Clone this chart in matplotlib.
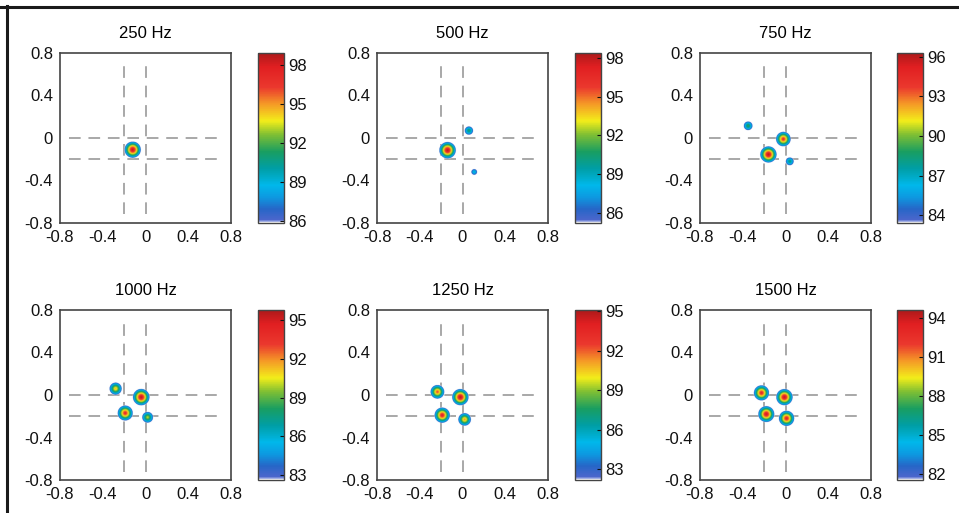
import numpy as np
import matplotlib
matplotlib.use("Agg")
import matplotlib.pyplot as plt
from matplotlib.colors import LinearSegmentedColormap
from matplotlib.lines import Line2D

plt.rcParams['font.family'] = ['Liberation Sans', 'DejaVu Sans']

# ---------------- data ----------------
titles = ["250 Hz", "500 Hz", "750 Hz", "1000 Hz", "1250 Hz", "1500 Hz"]

src_x_250 = [-0.12]
src_y_250 = [-0.11]
peak_250 = [98.6]

src_x_500 = [-0.14, 0.06, 0.11]
src_y_500 = [-0.115, 0.07, -0.32]
peak_500 = [98.2, 90.8, 88.8]

src_x_750 = [-0.35, -0.02, -0.16, 0.04]
src_y_750 = [0.115, -0.01, -0.155, -0.22]
peak_750 = [89.3, 94.5, 96.2, 88.6]

src_x_1000 = [-0.28, -0.04, -0.19, 0.02]
src_y_1000 = [0.06, -0.02, -0.17, -0.21]
peak_1000 = [91.5, 95.6, 94.2, 90.3]

src_x_1250 = [-0.235, -0.02, -0.19, 0.02]
src_y_1250 = [0.03, -0.02, -0.19, -0.23]
peak_1250 = [92.5, 95.0, 94.0, 91.5]

src_x_1500 = [-0.225, -0.01, -0.18, 0.01]
src_y_1500 = [0.02, -0.02, -0.18, -0.22]
peak_1500 = [93.2, 94.3, 94.0, 93.3]

clim_lo = [85.85, 85.2, 83.4, 82.6, 82.2, 81.5]
clim_hi = [98.9, 98.4, 96.3, 95.8, 95.1, 94.6]

cbar_ticks = [[86, 89, 92, 95, 98],
              [86, 89, 92, 95, 98],
              [84, 87, 90, 93, 96],
              [83, 86, 89, 92, 95],
              [83, 86, 89, 92, 95],
              [82, 85, 88, 91, 94]]

axis_ticks = [-0.8, -0.4, 0, 0.4, 0.8]
axis_ticklabels = ["-0.8", "-0.4", "0", "0.4", "0.8"]

guide_x = [-0.2, 0.0]
guide_y = [0.0, -0.2]

sources = [(src_x_250, src_y_250, peak_250),
           (src_x_500, src_y_500, peak_500),
           (src_x_750, src_y_750, peak_750),
           (src_x_1000, src_y_1000, peak_1000),
           (src_x_1250, src_y_1250, peak_1250),
           (src_x_1500, src_y_1500, peak_1500)]

# ---------------- figure ----------------
W, H = 959, 513
fig = plt.figure(figsize=(W / 100, H / 100), dpi=100)

# border lines (top and left)
fig.add_artist(Line2D([0, 1], [1 - 7 / H, 1 - 7 / H], transform=fig.transFigure,
                      color='#1a1a1a', lw=2.2))
fig.add_artist(Line2D([7 / W, 7 / W], [0, 1 - 6 / H], transform=fig.transFigure,
                      color='#1a1a1a', lw=2.2))

# scanned-looking jet colormap
cmap = LinearSegmentedColormap.from_list('scanjet', [
    (0.00, (1.00, 1.00, 1.00)),
    (0.015, (0.30, 0.40, 0.80)),
    (0.08, (0.15, 0.40, 0.78)),
    (0.15, (0.05, 0.60, 0.88)),
    (0.22, (0.00, 0.72, 0.92)),
    (0.32, (0.00, 0.62, 0.65)),
    (0.42, (0.10, 0.62, 0.38)),
    (0.52, (0.50, 0.75, 0.20)),
    (0.60, (0.95, 0.93, 0.10)),
    (0.70, (0.96, 0.60, 0.15)),
    (0.80, (0.92, 0.22, 0.18)),
    (0.92, (0.88, 0.12, 0.13)),
    (1.00, (0.68, 0.10, 0.10)),
], N=256)
cmap.set_bad((1, 1, 1, 0))

ax_lefts = [60, 377, 700]
cb_lefts = [258, 575, 897]
row_tops = [53, 310]
ax_w, ax_h = 171, 170
cb_w = 26

g = np.linspace(-0.8, 0.8, 600)
GX, GY = np.meshgrid(g, g)
decay, expo = 345.0, 1.3
FS = 12

def px_rect(left, top, w, h):
    return [left / W, 1 - (top + h) / H, w / W, h / H]

for i in range(6):
    r, c = divmod(i, 3)
    ax = fig.add_axes(px_rect(ax_lefts[c], row_tops[r], ax_w, ax_h))
    xs, ys, pk = sources[i]
    field = np.full(GX.shape, -np.inf)
    for sx, sy, p in zip(xs, ys, pk):
        rad = np.sqrt((GX - sx) ** 2 + (GY - sy) ** 2)
        field = np.maximum(field, p - decay * rad ** expo)
    lo, hi = clim_lo[i], clim_hi[i]
    data = np.ma.masked_less(field, lo)
    im = ax.imshow(data, origin='lower', extent=[-0.8, 0.8, -0.8, 0.8],
                   cmap=cmap, vmin=lo, vmax=hi, interpolation='bilinear',
                   aspect='auto', zorder=2)
    for gx in guide_x:
        ax.plot([gx, gx], [-0.72, 0.72], color='#a8a8a8', lw=1.4,
                dashes=(6, 4), zorder=1)
    for gy in guide_y:
        ax.plot([-0.72, 0.72], [gy, gy], color='#a8a8a8', lw=1.4,
                dashes=(6, 4), zorder=1)
    ax.set_xlim(-0.8, 0.8)
    ax.set_ylim(-0.8, 0.8)
    ax.set_xticks(axis_ticks)
    ax.set_xticklabels(axis_ticklabels)
    ax.set_yticks(axis_ticks)
    ax.set_yticklabels(axis_ticklabels)
    ax.tick_params(axis='x', length=0, labelsize=FS, pad=5, colors='#111111')
    ax.tick_params(axis='y', length=0, labelsize=FS, pad=5, colors='#111111')
    for s in ax.spines.values():
        s.set_color('#444444')
        s.set_linewidth(1.2)
    ax.set_title(titles[i], fontsize=FS, pad=11)

    cax = fig.add_axes(px_rect(cb_lefts[c], row_tops[r], cb_w, ax_h))
    cb = fig.colorbar(im, cax=cax)
    cb.set_ticks(cbar_ticks[i])
    cb.ax.tick_params(length=3, direction='in', labelsize=FS, pad=3,
                      colors='#111111')
    cb.outline.set_edgecolor('#444444')
    cb.outline.set_linewidth(1.0)

fig.savefig('out.png', dpi=100)
